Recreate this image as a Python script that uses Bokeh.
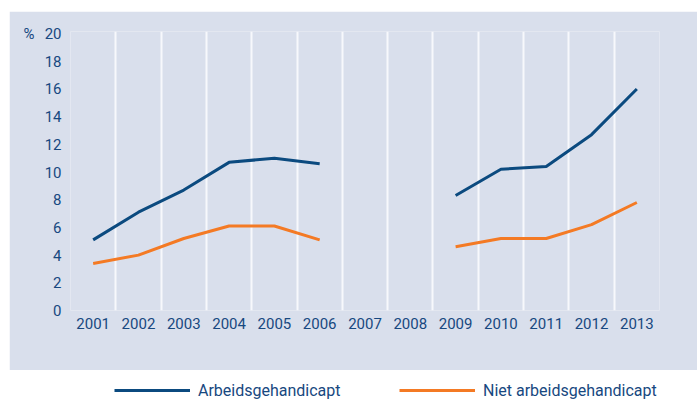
from bokeh.plotting import figure
from bokeh.models import Range1d, FixedTicker, Legend, LegendItem, LinearAxis
from bokeh.layouts import column
from bokeh.embed import file_html
from bokeh.resources import INLINE
import numpy as np

years = [2001, 2002, 2003, 2004, 2005, 2006, 2007, 2008, 2009, 2010, 2011, 2012, 2013]
arbeidsgehandicapt = [5.1, 7.1, 8.7, 10.7, 11.0, 10.6, None, None, 8.3, 10.2, 10.4, 12.7, 16.0]
niet_arbeidsgehandicapt = [3.4, 4.0, 5.2, 6.1, 6.1, 5.1, None, None, 4.6, 5.2, 5.2, 6.2, 7.8]
y_ticks = [0, 2, 4, 6, 8, 10, 12, 14, 16, 18, 20]
series_names = ["Arbeidsgehandicapt", "Niet arbeidsgehandicapt"]
unit_label = "%"

BG = "#d9dfec"
NAVY = "#0b4a7f"
TEXT = "#174880"
ORANGE = "#f47a24"
FONT = "Roboto"

ag = np.array([np.nan if v is None else v for v in arbeidsgehandicapt], dtype=float)
nag = np.array([np.nan if v is None else v for v in niet_arbeidsgehandicapt], dtype=float)

p = figure(width=688, height=359,
           x_range=Range1d(years[0] - 0.5, years[-1] + 0.5),
           y_range=Range1d(0, 20.15),
           output_backend="svg", toolbar_location=None,
           min_border_left=61, min_border_right=38, min_border_top=20, min_border_bottom=60,
           background_fill_color=BG, border_fill_color=BG, outline_line_color=None,
           margin=(11, 0, 0, 9))

p.xaxis.ticker = FixedTicker(ticks=years)
p.yaxis.ticker = FixedTicker(ticks=y_ticks)

pct_axis = LinearAxis(ticker=FixedTicker(ticks=[y_ticks[-1]]),
                      major_label_overrides={y_ticks[-1]: unit_label})
p.add_layout(pct_axis, "left")

for ax in (p.xaxis[0], p.yaxis[0], pct_axis):
    ax.axis_line_color = None
    ax.major_tick_line_color = None
    ax.minor_tick_line_color = None
    ax.major_tick_out = 0
    ax.major_tick_in = 0
    ax.minor_tick_out = 0
    ax.minor_tick_in = 0
    ax.major_label_text_color = TEXT
    ax.major_label_text_font = FONT
    ax.major_label_text_font_size = "15px"
p.yaxis[0].major_label_standoff = 9
pct_axis.major_label_standoff = 7
p.xaxis.major_label_standoff = 7

p.ygrid.grid_line_color = None
p.xgrid.ticker = FixedTicker(ticks=[y - 0.5 for y in years] + [years[-1] + 0.5])
p.xgrid.grid_line_color = "#f7f8fc"
p.xgrid.grid_line_width = 2

p.line(years, ag, line_color=NAVY, line_width=3)
p.line(years, nag, line_color=ORANGE, line_width=3)

lg = figure(width=688, height=30, x_range=Range1d(0, 1), y_range=Range1d(0, 1),
            output_backend="svg", toolbar_location=None,
            min_border_left=61, min_border_right=38, min_border_top=0, min_border_bottom=0,
            outline_line_color=None, border_fill_color="white", background_fill_color="white",
            x_axis_location=None, y_axis_location=None, margin=(0, 0, 0, 9))
lg.grid.visible = False
r1 = lg.line(years, ag, line_color=NAVY, line_width=3)
r2 = lg.line(years, nag, line_color=ORANGE, line_width=3)

for r, name, xloc in ((r1, series_names[0], 44), (r2, series_names[1], 329)):
    leg = Legend(items=[LegendItem(label=name, renderers=[r])], location=(xloc, 0),
                 orientation="horizontal", padding=0, margin=0,
                 border_line_color=None, background_fill_alpha=0,
                 glyph_width=76, glyph_height=20, label_standoff=8,
                 label_text_font=FONT, label_text_font_size="16px",
                 label_text_color=TEXT, label_text_baseline="middle")
    lg.add_layout(leg)

layout = column(p, lg, spacing=0)
open("out.html", "w").write(file_html(layout, INLINE))
